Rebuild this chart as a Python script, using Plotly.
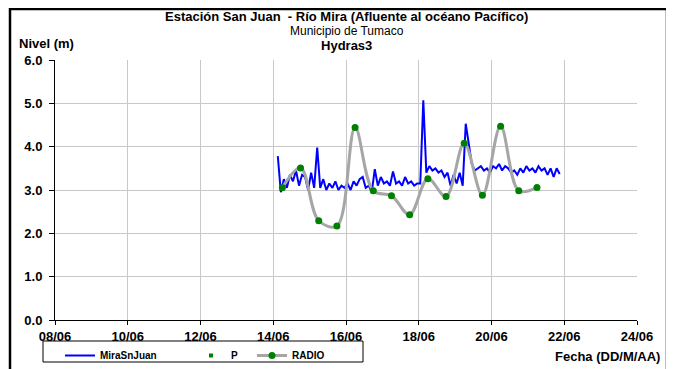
import pandas as pd
import plotly.graph_objects as go

W, H = 674, 369
# the page puts the figure 8 px in from the top left corner,
# so screen positions below are turned into figure margins with this offset
PAGE_OFFSET = 8
PLOT_L, PLOT_R, PLOT_T, PLOT_B = 55, 637, 60, 320   # screen px

BLUE = "#0000FF"
GREEN = "#008000"
GRAY_LINE = "#A6A6A6"
GRID = "#C8C8C8"
FONT = "Liberation Sans"

# water level MiraSnJuan, every 2 h starting 14/06 03:00
mira_start = "2010-06-14 03:00"
mira_values = [
    3.78, 2.95, 3.25, 3.05, 3.35, 3.20, 3.45, 3.10, 3.35, 3.30, 3.00,
    3.40, 3.05, 3.98, 3.05, 3.25, 3.00, 3.15, 3.05, 3.20, 3.00, 3.10, 3.05,
    3.15, 3.00, 3.20, 3.10, 3.25, 3.30, 3.05, 3.10, 2.95, 3.48, 3.10, 3.30,
    3.15, 3.20, 3.10, 3.43, 3.15, 3.20, 3.10, 3.30, 3.15, 3.20, 3.10, 3.15,
    3.15, 5.07, 3.40, 3.55, 3.45, 3.50, 3.40, 3.45, 3.30, 3.40, 3.10, 3.35,
    3.15, 3.40, 3.10, 4.53, 4.10, 3.60, 3.45, 3.50, 3.55, 3.45, 3.50, 3.40,
    3.55, 3.50, 3.60, 3.45, 3.55, 3.50, 3.40, 3.45, 3.35, 3.50, 3.40, 3.55,
    3.45, 3.50, 3.40, 3.55, 3.45, 3.50, 3.35, 3.50, 3.30, 3.50, 3.37,
]

# radio readings (P / RADIO), twice a day
radio_dates = [
    "2010-06-14 06:00", "2010-06-14 18:00", "2010-06-15 06:00", "2010-06-15 18:00",
    "2010-06-16 06:00", "2010-06-16 18:00", "2010-06-17 06:00", "2010-06-17 18:00",
    "2010-06-18 06:00", "2010-06-18 18:00", "2010-06-19 06:00", "2010-06-19 18:00",
    "2010-06-20 06:00", "2010-06-20 18:00", "2010-06-21 06:00",
]
radio_values = [
    3.05, 3.51, 2.29, 2.17, 4.44, 2.98, 2.87, 2.43,
    3.26, 2.85, 4.08, 2.88, 4.47, 2.98, 3.06,
]

mira_dates = pd.date_range(mira_start, periods=len(mira_values), freq="2h")


def px_x(x):
    return (x - PLOT_L) / (PLOT_R - PLOT_L)


def px_y(y):
    return (PLOT_B - y) / (PLOT_B - PLOT_T)


fig = go.Figure()
fig.add_trace(go.Scatter(
    x=mira_dates, y=mira_values, name="MiraSnJuan", mode="lines",
    line=dict(color=BLUE, width=2), legendwidth=86,
))
fig.add_trace(go.Scatter(
    x=radio_dates, y=radio_values, name="P", mode="markers",
    marker=dict(color=GREEN, size=4, symbol="square"), legendwidth=16,
))
fig.add_trace(go.Scatter(
    x=radio_dates, y=radio_values, name="RADIO", mode="lines+markers",
    line=dict(color=GRAY_LINE, width=3, shape="spline", smoothing=1.0),
    marker=dict(color=GREEN, size=7), legendwidth=40,
))

bold = dict(family=FONT, size=13, color="black", weight="bold")

fig.update_layout(
    width=W, height=H,
    margin=dict(
        l=PLOT_L - PAGE_OFFSET, r=W - (PLOT_R - PAGE_OFFSET),
        t=PLOT_T - PAGE_OFFSET, b=H - (PLOT_B - PAGE_OFFSET),
        autoexpand=False,
    ),
    paper_bgcolor="white", plot_bgcolor="white",
    font=dict(family=FONT, color="black"),
    showlegend=True,
    legend=dict(
        orientation="h", x=px_x(60), y=px_y(341), xanchor="left", yanchor="top",
        bgcolor="rgba(0,0,0,0)", font=dict(family=FONT, size=10, weight="bold"),
        itemwidth=30, tracegroupgap=0,
    ),
)
fig.update_xaxes(
    type="date", range=["2010-06-08", "2010-06-24"], dtick=2 * 86400000,
    tick0="2010-06-08", tickformat="%d/%m", tickfont=bold,
    showgrid=True, gridcolor=GRID, gridwidth=1,
    showline=True, linecolor="black", linewidth=1,
    ticks="outside", ticklen=4, tickcolor="black", zeroline=False,
)
fig.update_yaxes(
    range=[0, 6], dtick=1, tickformat=".1f", tickfont=bold,
    showgrid=True, gridcolor=GRID, gridwidth=1,
    showline=True, linecolor="black", linewidth=1,
    ticks="outside", ticklen=5, tickcolor="black", zeroline=False,
    ticklabelstandoff=4,
)

# three title lines in one text block, line spacing set by the base size
title_text = (
    '<span style="font-size:13px"><b>Estación San Juan\u00a0 - Río Mira '
    '(Afluente al océano Pacífico)</b></span><br>'
    '<span style="font-size:12px">Municipio de Tumaco</span><br>'
    '<span style="font-size:13px"><b>Hydras3</b></span>'
)
fig.add_annotation(
    text=title_text, x=0.5, y=px_y(31), xref="paper", yref="paper", xanchor="center",
    yanchor="middle", showarrow=False, font=dict(family=FONT, size=11),
)
fig.add_annotation(
    text="<b>Nivel (m)</b>", x=px_x(17), y=px_y(43), xref="paper", yref="paper",
    xanchor="left", yanchor="middle", showarrow=False, font=dict(family=FONT, size=13),
)
fig.add_annotation(
    text="<b>Fecha (DD/M/AA)</b>", x=px_x(662), y=px_y(356), xref="paper", yref="paper",
    xanchor="right", yanchor="middle", showarrow=False, font=dict(family=FONT, size=13),
)

# legend box and the outer chart frame
fig.add_shape(
    type="rect", xref="paper", yref="paper",
    x0=px_x(43), x1=px_x(363), y0=px_y(341), y1=px_y(362),
    line=dict(color="black", width=1),
)
fig.add_shape(
    type="rect", xref="paper", yref="paper",
    x0=px_x(10), x1=px_x(667), y0=px_y(9), y1=px_y(385),
    line=dict(color="black", width=2.5),
)

fig.write_html("out.html")
